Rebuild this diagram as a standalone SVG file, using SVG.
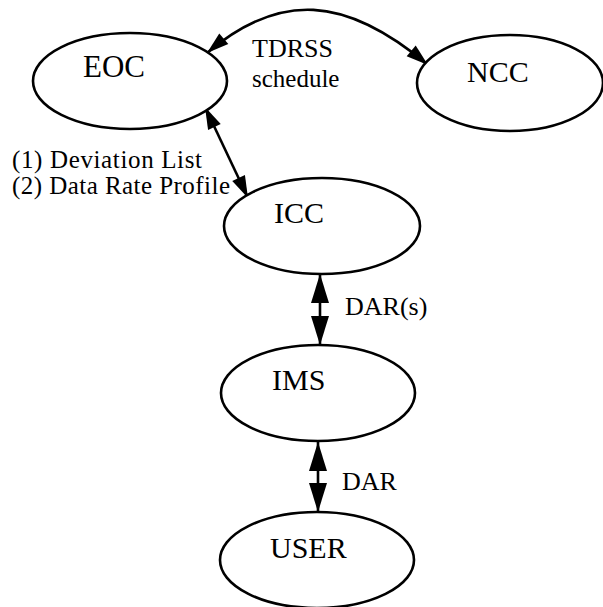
<svg xmlns="http://www.w3.org/2000/svg" width="603" height="607" viewBox="0 0 603 607">
<style>
.node{fill:#fff;stroke:#000;stroke-width:2.6}
.lbl{font-family:"Liberation Serif","Times New Roman",serif;fill:#000}
.big{font-size:30px}
.sm{font-size:26px}
.conn{fill:none;stroke:#000;stroke-width:2.6}
</style>
<defs>
<marker id="ah" markerUnits="userSpaceOnUse" viewBox="-24 -9 26 18" markerWidth="26" markerHeight="18" refX="0" refY="0" orient="auto-start-reverse" overflow="visible">
<path d="M0,0 L-22,-7 L-22,7 z" fill="#000"/>
</marker>
<marker id="ahb" markerUnits="userSpaceOnUse" viewBox="-30 -10 32 20" markerWidth="32" markerHeight="20" refX="0" refY="0" orient="auto-start-reverse" overflow="visible">
<path d="M0,0 L-29,-9 L-29,9 z" fill="#000"/>
</marker>
</defs>
<rect width="603" height="607" fill="#fff"/>
<g id="connectors">
<path class="conn" d="M207,53 C279,-8 345,-5 428,65" marker-start="url(#ah)" marker-end="url(#ah)"/>
<path class="conn" d="M205,107 L248,198" marker-start="url(#ah)" marker-end="url(#ah)"/>
<path class="conn" d="M320,274 L320,345" marker-start="url(#ahb)" marker-end="url(#ahb)"/>
<path class="conn" d="M318,442 L318,512" marker-start="url(#ahb)" marker-end="url(#ahb)"/>
<text class="lbl sm" x="252" y="57">TDRSS</text>
<text class="lbl" style="font-size:25px" x="252" y="87">schedule</text>
<text class="lbl" style="font-size:25px" x="12" y="168" textLength="190">(1) Deviation List</text>
<text class="lbl" style="font-size:25px" x="12" y="194" textLength="218">(2) Data Rate Profile</text>
<text class="lbl sm" x="345" y="315">DAR(s)</text>
<text class="lbl sm" x="342" y="490">DAR</text>
</g>
<g id="EOC">
<ellipse class="node" cx="130" cy="81" rx="97" ry="48"/>
<text class="lbl big" x="83" y="77" style="font-size:31px">EOC</text>
</g>
<g id="NCC">
<ellipse class="node" cx="510" cy="83" rx="93" ry="48"/>
<text class="lbl big" x="467" y="82">NCC</text>
</g>
<g id="ICC">
<ellipse class="node" cx="322" cy="226" rx="98" ry="48"/>
<text class="lbl big" x="274" y="223">ICC</text>
</g>
<g id="IMS">
<ellipse class="node" cx="318" cy="393" rx="97" ry="48"/>
<text class="lbl big" x="272" y="390">IMS</text>
</g>
<g id="USER">
<ellipse class="node" cx="317" cy="560" rx="97" ry="48"/>
<text class="lbl big" x="270" y="558">USER</text>
</g>
</svg>
